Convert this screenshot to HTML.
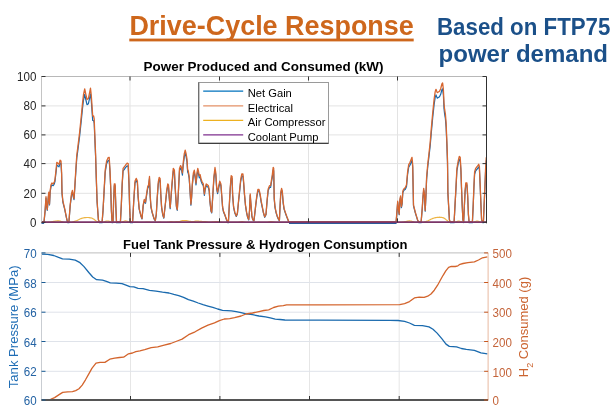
<!DOCTYPE html>
<html><head><meta charset="utf-8"><style>
html,body{margin:0;padding:0;background:#fff;}
svg{display:block;filter:blur(0.3px);}
text{font-family:"Liberation Sans",Arial,sans-serif;}
.tk{font-size:12.4px;fill:#262626;}
.tkb{font-size:12.4px;fill:#2463A4;}
.tko{font-size:12.4px;fill:#C4643A;}
.ttl{font-size:12.5px;font-weight:bold;fill:#000;}
.lg{font-size:11.2px;fill:#000;}
.axb{font-size:12px;fill:#1F6DB5;}
.axo{font-size:12.5px;fill:#CB6430;}
.h1{font-size:27.6px;font-weight:bold;fill:#CE671C;}
.h2{font-size:23px;font-weight:bold;fill:#1B5089;}
</style></head><body>
<svg width="616" height="410" viewBox="0 0 616 410">
<rect width="616" height="410" fill="#fff"/>
<text x="129.4" y="35.4" class="h1" textLength="284.4" lengthAdjust="spacingAndGlyphs">Drive-Cycle Response</text>
<rect x="129.3" y="38.6" width="284.4" height="2.8" fill="#CE671C"/>
<text x="437" y="34.7" class="h2" textLength="173.4" lengthAdjust="spacingAndGlyphs">Based on FTP75</text>
<text x="438.6" y="62" class="h2" textLength="169.4" lengthAdjust="spacingAndGlyphs">power demand</text>
<line x1="130.0" y1="76.5" x2="130.0" y2="222.3" stroke="#e3e3e3" stroke-width="1"/>
<line x1="219.5" y1="76.5" x2="219.5" y2="222.3" stroke="#e3e3e3" stroke-width="1"/>
<line x1="308.5" y1="76.5" x2="308.5" y2="222.3" stroke="#e3e3e3" stroke-width="1"/>
<line x1="397.5" y1="76.5" x2="397.5" y2="222.3" stroke="#e3e3e3" stroke-width="1"/>
<line x1="41.5" y1="193.3" x2="486.5" y2="193.3" stroke="#e3e3e3" stroke-width="1"/>
<line x1="41.5" y1="163.6" x2="486.5" y2="163.6" stroke="#e3e3e3" stroke-width="1"/>
<line x1="41.5" y1="134.9" x2="486.5" y2="134.9" stroke="#e3e3e3" stroke-width="1"/>
<line x1="41.5" y1="105.9" x2="486.5" y2="105.9" stroke="#e3e3e3" stroke-width="1"/>
<polyline points="41.8,222.6 44.0,222.6 45.1,211.2 46.0,198.0 46.6,205.9 47.3,210.3 48.2,198.9 48.8,193.6 49.5,205.0 50.2,191.9 51.0,186.6 51.9,184.9 53.2,185.7 54.3,183.9 55.0,181.3 56.1,171.6 56.8,165.1 57.9,165.9 59.0,166.9 60.1,162.9 61.0,163.7 61.6,174.3 62.0,193.6 62.9,202.3 64.7,209.4 66.5,218.2 67.5,222.6 68.9,222.6 70.2,205.9 71.5,195.3 72.4,191.9 73.3,197.2 74.0,199.7 74.8,188.3 75.9,170.8 76.8,158.0 77.7,151.4 79.6,136.5 81.2,121.5 82.5,108.4 83.5,100.0 84.7,94.4 85.9,100.0 87.0,104.7 88.4,103.7 89.4,99.1 90.5,93.9 91.3,101.0 92.1,112.2 92.7,120.5 93.6,120.5 94.2,123.4 94.8,138.3 95.6,157.0 96.3,179.6 97.1,202.3 98.4,219.9 99.3,222.6 102.1,222.6 103.0,211.2 104.1,191.9 105.2,172.5 106.6,163.7 108.1,160.6 109.2,160.2 109.9,170.8 110.7,188.3 111.4,211.2 112.1,222.6 113.0,222.6 113.6,202.3 114.3,185.7 115.1,185.7 115.8,205.9 116.5,222.6 120.4,222.6 121.3,205.9 122.2,184.8 123.1,170.8 124.6,169.0 125.9,167.2 127.1,165.9 128.2,166.3 129.0,184.8 129.7,209.4 130.4,222.6 132.6,222.6 133.7,202.3 135.0,183.0 136.3,180.4 137.4,183.0 138.1,197.2 139.2,209.4 141.0,216.4 142.0,219.0 143.2,205.9 144.3,200.6 145.5,203.3 146.6,195.3 147.7,188.3 148.6,186.6 149.5,178.6 150.2,197.2 151.0,207.6 152.2,212.9 154.1,219.0 155.3,220.9 156.3,214.7 157.2,198.9 158.3,183.9 159.2,179.6 160.1,180.4 160.8,195.3 161.6,207.6 162.7,214.7 163.8,218.2 164.5,212.0 165.6,202.3 166.7,191.9 167.8,185.7 168.5,186.6 169.3,198.9 170.2,208.6 171.8,187.6 173.3,170.8 174.4,172.6 175.1,187.6 176.4,206.8 177.3,210.3 178.2,196.3 179.5,170.8 180.6,168.2 181.5,170.0 182.4,175.2 183.2,165.6 184.3,156.7 185.2,153.3 186.1,156.7 187.0,162.0 187.6,171.7 188.3,173.4 189.2,178.7 190.1,192.7 190.9,205.1 191.6,198.0 192.3,185.7 193.4,175.2 194.3,172.6 195.3,178.7 196.0,184.9 197.1,174.3 197.8,170.8 198.6,174.3 199.3,177.9 200.2,177.0 201.1,181.3 202.2,184.0 203.3,185.7 204.4,195.4 205.1,190.1 206.2,185.7 207.3,186.6 208.4,187.6 209.2,191.0 209.9,201.6 211.0,211.3 211.7,213.0 212.8,196.3 213.9,178.7 215.0,170.0 215.8,175.2 216.7,189.3 217.6,193.7 218.7,187.6 219.8,183.1 220.9,185.7 221.8,197.2 222.6,207.6 223.5,212.0 225.0,215.6 226.2,219.0 227.5,222.6 228.4,222.6 229.3,205.9 230.3,188.3 231.2,177.8 232.1,178.6 232.6,195.3 233.6,207.6 234.8,212.9 236.3,216.4 237.4,213.8 238.5,202.3 239.6,191.9 240.7,181.3 241.8,176.0 242.9,176.0 243.6,183.0 244.5,195.3 245.5,205.9 246.6,212.9 247.6,217.3 248.7,219.9 249.5,211.2 250.2,195.3 250.9,204.2 251.9,216.4 252.8,219.9 253.9,220.9 254.6,215.6 255.7,205.9 256.8,197.2 257.9,190.9 259.0,190.9 260.1,195.3 261.2,202.3 262.3,207.6 263.4,212.9 264.7,217.3 266.0,214.7 267.1,201.2 268.2,190.6 269.5,187.5 270.6,187.5 271.3,183.0 272.2,177.8 273.2,169.9 273.7,170.8 274.2,198.9 275.0,207.6 276.1,212.9 277.2,216.4 278.3,219.0 279.4,220.9 280.1,205.9 280.8,193.6 281.6,190.0 282.3,192.7 283.2,203.3 284.1,209.4 285.6,213.8 286.9,217.3 288.7,221.7 289.6,222.6 396.1,222.6 397.0,211.2 397.7,202.3 398.4,209.4 399.2,214.7 399.9,200.6 400.6,197.2 401.4,207.6 402.1,204.2 402.8,192.7 403.6,190.9 404.3,190.0 405.4,189.2 406.5,186.6 407.6,174.3 408.7,167.2 409.8,165.5 410.9,162.9 412.0,160.2 412.7,167.2 413.5,205.9 414.4,209.4 415.3,212.9 416.4,216.4 417.5,219.9 418.6,222.6 421.1,222.6 422.2,209.4 423.0,197.2 423.7,190.0 424.4,195.3 425.2,211.2 425.9,197.2 426.6,179.6 427.7,167.2 428.8,158.0 430.2,145.8 431.3,132.6 432.7,117.7 434.1,104.6 435.2,97.1 436.0,94.9 437.2,98.1 438.4,97.5 439.5,96.7 440.7,94.3 441.9,89.6 442.6,88.8 443.4,95.3 444.0,108.4 444.6,114.0 445.4,118.6 446.1,127.1 446.9,145.8 447.5,162.8 447.9,193.6 448.6,205.9 449.4,219.9 450.1,222.6 454.1,222.6 455.0,205.9 456.0,188.3 456.9,170.8 458.2,163.7 459.3,159.3 460.2,160.2 460.9,170.8 461.5,188.3 462.2,205.9 462.9,219.9 463.6,222.6 464.4,205.9 465.1,191.9 465.8,184.8 466.9,184.8 467.7,197.2 468.4,214.7 469.1,222.6 472.4,222.6 473.2,205.9 473.9,188.3 474.6,174.3 475.7,170.8 477.2,169.0 478.7,166.9 479.4,169.0 480.1,184.8 480.9,204.2 481.6,219.9 482.5,222.6 483.4,222.6 484.1,205.9 484.9,188.3 485.6,170.8 486.3,160.2" fill="none" stroke="#1568AE" stroke-width="1.2" stroke-linejoin="round"/>
<line x1="289" y1="223.3" x2="396.5" y2="223.3" stroke="#2a5a9a" stroke-width="1.2"/>
<line x1="41.5" y1="223.3" x2="44" y2="223.3" stroke="#2a5a9a" stroke-width="1.2"/>
<polyline points="41.8,221.7 44.0,221.7 45.1,210.4 46.0,196.7 46.6,204.9 47.3,209.5 48.2,197.6 48.8,192.1 49.5,204.0 50.2,190.3 51.0,184.8 51.9,183.0 53.2,183.9 54.3,182.0 55.0,179.3 56.1,169.2 56.8,162.4 57.9,163.2 59.0,164.3 60.1,160.1 61.0,161.0 61.6,172.0 62.0,192.1 62.9,201.2 64.7,208.6 66.5,217.7 67.5,221.7 68.9,221.7 70.2,204.9 71.5,193.9 72.4,190.3 73.3,195.8 74.0,198.5 74.8,186.6 75.9,168.3 76.8,155.0 77.7,148.1 79.6,132.6 81.2,117.0 82.5,103.4 83.5,94.6 84.7,88.8 85.9,94.6 87.0,99.5 88.4,98.5 89.4,93.7 90.5,88.2 91.3,95.6 92.1,107.3 92.7,116.0 93.6,116.0 94.2,119.0 94.8,134.5 95.6,154.0 96.3,177.5 97.1,201.2 98.4,219.5 99.3,221.7 102.1,221.7 103.0,210.4 104.1,190.3 105.2,170.1 106.6,161.0 108.1,157.7 109.2,157.3 109.9,168.3 110.7,186.6 111.4,210.4 112.1,221.7 113.0,221.7 113.6,201.2 114.3,183.9 115.1,183.9 115.8,204.9 116.5,221.7 120.4,221.7 121.3,204.9 122.2,182.9 123.1,168.3 124.6,166.5 125.9,164.6 127.1,163.2 128.2,163.7 129.0,182.9 129.7,208.6 130.4,221.7 132.6,221.7 133.7,201.2 135.0,181.1 136.3,178.4 137.4,181.1 138.1,195.8 139.2,208.6 141.0,215.9 142.0,218.6 143.2,204.9 144.3,199.4 145.5,202.2 146.6,193.9 147.7,186.6 148.6,184.8 149.5,176.5 150.2,195.8 151.0,206.7 152.2,212.2 154.1,218.6 155.3,220.5 156.3,214.1 157.2,197.6 158.3,182.0 159.2,177.5 160.1,178.4 160.8,193.9 161.6,206.7 162.7,214.1 163.8,217.7 164.5,211.3 165.6,201.2 166.7,190.3 167.8,183.9 168.5,184.8 169.3,197.6 170.2,207.7 171.8,185.8 173.3,168.4 174.4,170.2 175.1,185.8 176.4,205.9 177.3,209.5 178.2,194.9 179.5,168.4 180.6,165.6 181.5,167.5 182.4,172.9 183.2,162.9 184.3,153.7 185.2,150.1 186.1,153.7 187.0,159.2 187.6,169.3 188.3,171.1 189.2,176.6 190.1,191.2 190.9,204.1 191.6,196.7 192.3,183.9 193.4,172.9 194.3,170.2 195.3,176.6 196.0,183.0 197.1,172.0 197.8,168.4 198.6,172.0 199.3,175.7 200.2,174.8 201.1,179.3 202.2,182.1 203.3,183.9 204.4,194.0 205.1,188.5 206.2,183.9 207.3,184.8 208.4,185.8 209.2,189.4 209.9,200.4 211.0,210.5 211.7,212.3 212.8,194.9 213.9,176.6 215.0,167.5 215.8,172.9 216.7,187.6 217.6,192.2 218.7,185.8 219.8,181.2 220.9,183.9 221.8,195.8 222.6,206.7 223.5,211.3 225.0,215.0 226.2,218.6 227.5,221.7 228.4,221.7 229.3,204.9 230.3,186.6 231.2,175.6 232.1,176.5 232.6,193.9 233.6,206.7 234.8,212.2 236.3,215.9 237.4,213.1 238.5,201.2 239.6,190.3 240.7,179.3 241.8,173.8 242.9,173.8 243.6,181.1 244.5,193.9 245.5,204.9 246.6,212.2 247.6,216.8 248.7,219.5 249.5,210.4 250.2,193.9 250.9,203.1 251.9,215.9 252.8,219.5 253.9,220.5 254.6,215.0 255.7,204.9 256.8,195.8 257.9,189.3 259.0,189.3 260.1,193.9 261.2,201.2 262.3,206.7 263.4,212.2 264.7,216.8 266.0,214.1 267.1,200.0 268.2,189.0 269.5,185.7 270.6,185.7 271.3,181.1 272.2,175.6 273.2,167.4 273.7,168.3 274.2,197.6 275.0,206.7 276.1,212.2 277.2,215.9 278.3,218.6 279.4,220.5 280.1,204.9 280.8,192.1 281.6,188.4 282.3,191.2 283.2,202.2 284.1,208.6 285.6,213.1 286.9,216.8 288.7,221.4 289.6,221.7 396.1,221.7 397.0,210.4 397.7,201.2 398.4,208.6 399.2,214.1 399.9,199.4 400.6,195.8 401.4,206.7 402.1,203.1 402.8,191.2 403.6,189.3 404.3,188.4 405.4,187.5 406.5,184.8 407.6,172.0 408.7,164.6 409.8,162.8 410.9,160.1 412.0,157.3 412.7,164.6 413.5,204.9 414.4,208.6 415.3,212.2 416.4,215.9 417.5,219.5 418.6,221.7 421.1,221.7 422.2,208.6 423.0,195.8 423.7,188.4 424.4,193.9 425.2,210.4 425.9,195.8 426.6,177.5 427.7,164.6 428.8,155.0 430.2,142.3 431.3,128.6 432.7,113.0 434.1,99.4 435.2,91.6 436.0,89.3 437.2,92.6 438.4,92.0 439.5,91.2 440.7,88.7 441.9,83.8 442.6,82.9 443.4,89.7 444.0,103.3 444.6,109.2 445.4,114.0 446.1,122.8 446.9,142.3 447.5,160.0 447.9,192.1 448.6,204.9 449.4,219.5 450.1,221.7 454.1,221.7 455.0,204.9 456.0,186.6 456.9,168.3 458.2,161.0 459.3,156.4 460.2,157.3 460.9,168.3 461.5,186.6 462.2,204.9 462.9,219.5 463.6,221.7 464.4,204.9 465.1,190.3 465.8,182.9 466.9,182.9 467.7,195.8 468.4,214.1 469.1,221.7 472.4,221.7 473.2,204.9 473.9,186.6 474.6,172.0 475.7,168.3 477.2,166.5 478.7,164.3 479.4,166.5 480.1,182.9 480.9,203.1 481.6,219.5 482.5,221.7 483.4,221.7 484.1,204.9 484.9,186.6 485.6,168.3 486.3,157.3" fill="none" stroke="#D66630" stroke-width="1.3" stroke-linejoin="round"/>
<polyline points="41.5,222.3 42.0,222.3 42.5,222.3 43.0,222.3 43.5,222.3 44.0,222.3 44.5,222.3 45.0,222.3 45.5,222.3 46.0,222.3 46.5,222.3 47.0,222.3 47.5,222.3 48.0,222.3 48.5,222.2 49.0,222.1 49.5,222.1 50.0,222.0 50.5,222.0 51.0,221.9 51.5,221.8 52.0,221.7 52.5,221.6 53.0,221.6 53.5,221.4 54.0,221.3 54.5,221.3 55.0,221.2 55.5,221.1 56.0,221.1 56.5,221.0 57.0,220.9 57.5,220.9 58.0,220.8 58.5,220.9 59.0,220.9 59.5,221.0 60.0,221.1 60.5,221.2 61.0,221.4 61.5,221.5 62.0,221.7 62.5,221.8 63.0,222.0 63.5,222.2 64.0,222.3 64.5,222.3 65.0,222.3 65.5,222.3 66.0,222.3 66.5,222.3 67.0,222.3 67.5,222.3 68.0,222.3 68.5,222.3 69.0,222.3 69.5,222.3 70.0,222.3 70.5,222.3 71.0,222.3 71.5,222.3 72.0,222.3 72.5,222.1 73.0,221.9 73.5,221.7 74.0,221.6 74.5,221.4 75.0,221.2 75.5,221.0 76.0,220.9 76.5,220.7 77.0,220.5 77.5,220.2 78.0,220.0 78.5,219.7 79.0,219.5 79.5,219.2 80.0,219.0 80.5,218.8 81.0,218.6 81.5,218.4 82.0,218.3 82.5,218.1 83.0,218.0 83.5,217.9 84.0,217.8 84.5,217.7 85.0,217.7 85.5,217.6 86.0,217.6 86.5,217.5 87.0,217.5 87.5,217.5 88.0,217.5 88.5,217.5 89.0,217.6 89.5,217.7 90.0,217.8 90.5,217.8 91.0,217.9 91.5,218.0 92.0,218.2 92.5,218.4 93.0,218.7 93.5,219.0 94.0,219.3 94.5,219.7 95.0,220.1 95.5,220.5 96.0,220.9 96.5,221.2 97.0,221.5 97.5,221.8 98.0,222.2 98.5,222.3 99.0,222.3 99.5,222.3 100.0,222.3 100.5,222.3 101.0,222.3 101.5,222.3 102.0,222.3 102.5,222.3 103.0,222.3 103.5,222.2 104.0,222.0 104.5,221.8 105.0,221.6 105.5,221.4 106.0,221.2 106.5,221.1 107.0,221.0 107.5,221.0 108.0,221.0 108.5,221.1 109.0,221.3 109.5,221.4 110.0,221.6 110.5,221.7 111.0,221.7 111.5,221.8 112.0,221.9 112.5,222.1 113.0,222.3 113.5,222.3 114.0,222.3 114.5,222.3 115.0,222.3 115.5,222.3 116.0,222.3 116.5,222.3 117.0,222.3 117.5,222.3 118.0,222.3 118.5,222.3 119.0,222.3 119.5,222.3 120.0,222.3 120.5,222.3 121.0,222.3 121.5,222.2 122.0,222.0 122.5,221.8 123.0,221.6 123.5,221.5 124.0,221.3 124.5,221.1 125.0,221.0 125.5,220.9 126.0,221.0 126.5,221.1 127.0,221.3 127.5,221.4 128.0,221.6 128.5,221.8 129.0,221.9 129.5,222.1 130.0,222.2 130.5,222.3 131.0,222.3 131.5,222.3 132.0,222.3 132.5,222.3 133.0,222.3 133.5,222.3 134.0,222.3 134.5,222.3 135.0,222.2 135.5,222.1 136.0,222.1 136.5,222.1 137.0,222.1 137.5,222.1 138.0,222.2 138.5,222.3 139.0,222.3 139.5,222.3 140.0,222.3 140.5,222.3 141.0,222.3 141.5,222.3 142.0,222.3 142.5,222.3 143.0,222.3 143.5,222.3 144.0,222.3 144.5,222.3 145.0,222.3 145.5,222.3 146.0,222.1 146.5,222.1 147.0,222.0 147.5,222.0 148.0,222.1 148.5,222.1 149.0,222.1 149.5,222.2 150.0,222.2 150.5,222.3 151.0,222.3 151.5,222.3 152.0,222.3 152.5,222.3 153.0,222.3 153.5,222.3 154.0,222.3 154.5,222.3 155.0,222.3 155.5,222.3 156.0,222.3 156.5,222.3 157.0,222.3 157.5,222.3 158.0,222.3 158.5,222.2 159.0,222.2 159.5,222.2 160.0,222.2 160.5,222.2 161.0,222.2 161.5,222.3 162.0,222.3 162.5,222.3 163.0,222.3 163.5,222.3 164.0,222.3 164.5,222.3 165.0,222.3 165.5,222.3 166.0,222.3 166.5,222.3 167.0,222.3 167.5,222.2 168.0,222.2 168.5,222.1 169.0,222.0 169.5,221.9 170.0,221.8 170.5,221.7 171.0,221.7 171.5,221.7 172.0,221.7 172.5,221.8 173.0,221.8 173.5,221.8 174.0,221.8 174.5,221.8 175.0,221.8 175.5,221.8 176.0,221.7 176.5,221.7 177.0,221.7 177.5,221.6 178.0,221.6 178.5,221.6 179.0,221.6 179.5,221.5 180.0,221.4 180.5,221.2 181.0,221.1 181.5,220.9 182.0,220.8 182.5,220.6 183.0,220.6 183.5,220.6 184.0,220.6 184.5,220.6 185.0,220.6 185.5,220.6 186.0,220.6 186.5,220.7 187.0,220.8 187.5,220.9 188.0,221.1 188.5,221.2 189.0,221.3 189.5,221.3 190.0,221.4 190.5,221.4 191.0,221.5 191.5,221.5 192.0,221.5 192.5,221.6 193.0,221.6 193.5,221.5 194.0,221.5 194.5,221.4 195.0,221.3 195.5,221.2 196.0,221.2 196.5,221.2 197.0,221.2 197.5,221.2 198.0,221.2 198.5,221.2 199.0,221.3 199.5,221.3 200.0,221.3 200.5,221.3 201.0,221.4 201.5,221.4 202.0,221.5 202.5,221.5 203.0,221.6 203.5,221.6 204.0,221.6 204.5,221.7 205.0,221.7 205.5,221.7 206.0,221.7 206.5,221.8 207.0,221.9 207.5,221.9 208.0,222.0 208.5,222.1 209.0,222.1 209.5,222.1 210.0,222.1 210.5,222.1 211.0,222.0 211.5,222.0 212.0,221.9 212.5,221.9 213.0,221.9 213.5,221.9 214.0,221.8 214.5,221.8 215.0,221.7 215.5,221.6 216.0,221.6 216.5,221.5 217.0,221.5 217.5,221.5 218.0,221.5 218.5,221.6 219.0,221.7 219.5,221.9 220.0,222.0 220.5,222.0 221.0,222.1 221.5,222.2 222.0,222.3 222.5,222.3 223.0,222.3 223.5,222.3 224.0,222.3 224.5,222.3 225.0,222.3 225.5,222.3 226.0,222.3 226.5,222.3 227.0,222.3 227.5,222.3 228.0,222.3 228.5,222.3 229.0,222.3 229.5,222.3 230.0,222.3 230.5,222.3 231.0,222.3 231.5,222.3 232.0,222.3 232.5,222.3 233.0,222.3 233.5,222.3 234.0,222.3 234.5,222.3 235.0,222.3 235.5,222.3 236.0,222.3 236.5,222.3 237.0,222.3 237.5,222.3 238.0,222.3 238.5,222.3 239.0,222.1 239.5,222.0 240.0,221.9 240.5,221.8 241.0,221.8 241.5,221.7 242.0,221.7 242.5,221.7 243.0,221.8 243.5,221.9 244.0,222.0 244.5,222.1 245.0,222.2 245.5,222.3 246.0,222.3 246.5,222.3 247.0,222.3 247.5,222.3 248.0,222.3 248.5,222.3 249.0,222.3 249.5,222.3 250.0,222.3 250.5,222.3 251.0,222.3 251.5,222.3 252.0,222.3 252.5,222.3 253.0,222.3 253.5,222.3 254.0,222.3 254.5,222.3 255.0,222.3 255.5,222.3 256.0,222.3 256.5,222.3 257.0,222.3 257.5,222.3 258.0,222.3 258.5,222.2 259.0,222.2 259.5,222.2 260.0,222.3 260.5,222.3 261.0,222.3 261.5,222.3 262.0,222.3 262.5,222.3 263.0,222.3 263.5,222.3 264.0,222.3 264.5,222.3 265.0,222.3 265.5,222.3 266.0,222.3 266.5,222.3 267.0,222.3 267.5,222.3 268.0,222.2 268.5,222.1 269.0,221.9 269.5,221.8 270.0,221.7 270.5,221.6 271.0,221.6 271.5,221.6 272.0,221.7 272.5,221.8 273.0,221.8 273.5,221.9 274.0,222.0 274.5,222.1 275.0,222.2 275.5,222.3 276.0,222.3 276.5,222.3 277.0,222.3 277.5,222.3 278.0,222.3 278.5,222.3 279.0,222.3 279.5,222.3 280.0,222.3 280.5,222.3 281.0,222.3 281.5,222.3 282.0,222.3 282.5,222.3 283.0,222.3 283.5,222.3 284.0,222.3 284.5,222.3 285.0,222.3 285.5,222.3 286.0,222.3 286.5,222.3 287.0,222.3 287.5,222.3 288.0,222.3 288.5,222.3 289.0,222.3 289.5,222.3 290.0,222.3 290.5,222.3 291.0,222.3 291.5,222.3 292.0,222.3 292.5,222.3 293.0,222.3 293.5,222.3 294.0,222.3 294.5,222.3 295.0,222.3 295.5,222.3 296.0,222.3 296.5,222.3 297.0,222.3 297.5,222.3 298.0,222.3 298.5,222.3 299.0,222.3 299.5,222.3 300.0,222.3 300.5,222.3 301.0,222.3 301.5,222.3 302.0,222.3 302.5,222.3 303.0,222.3 303.5,222.3 304.0,222.3 304.5,222.3 305.0,222.3 305.5,222.3 306.0,222.3 306.5,222.3 307.0,222.3 307.5,222.3 308.0,222.3 308.5,222.3 309.0,222.3 309.5,222.3 310.0,222.3 310.5,222.3 311.0,222.3 311.5,222.3 312.0,222.3 312.5,222.3 313.0,222.3 313.5,222.3 314.0,222.3 314.5,222.3 315.0,222.3 315.5,222.3 316.0,222.3 316.5,222.3 317.0,222.3 317.5,222.3 318.0,222.3 318.5,222.3 319.0,222.3 319.5,222.3 320.0,222.3 320.5,222.3 321.0,222.3 321.5,222.3 322.0,222.3 322.5,222.3 323.0,222.3 323.5,222.3 324.0,222.3 324.5,222.3 325.0,222.3 325.5,222.3 326.0,222.3 326.5,222.3 327.0,222.3 327.5,222.3 328.0,222.3 328.5,222.3 329.0,222.3 329.5,222.3 330.0,222.3 330.5,222.3 331.0,222.3 331.5,222.3 332.0,222.3 332.5,222.3 333.0,222.3 333.5,222.3 334.0,222.3 334.5,222.3 335.0,222.3 335.5,222.3 336.0,222.3 336.5,222.3 337.0,222.3 337.5,222.3 338.0,222.3 338.5,222.3 339.0,222.3 339.5,222.3 340.0,222.3 340.5,222.3 341.0,222.3 341.5,222.3 342.0,222.3 342.5,222.3 343.0,222.3 343.5,222.3 344.0,222.3 344.5,222.3 345.0,222.3 345.5,222.3 346.0,222.3 346.5,222.3 347.0,222.3 347.5,222.3 348.0,222.3 348.5,222.3 349.0,222.3 349.5,222.3 350.0,222.3 350.5,222.3 351.0,222.3 351.5,222.3 352.0,222.3 352.5,222.3 353.0,222.3 353.5,222.3 354.0,222.3 354.5,222.3 355.0,222.3 355.5,222.3 356.0,222.3 356.5,222.3 357.0,222.3 357.5,222.3 358.0,222.3 358.5,222.3 359.0,222.3 359.5,222.3 360.0,222.3 360.5,222.3 361.0,222.3 361.5,222.3 362.0,222.3 362.5,222.3 363.0,222.3 363.5,222.3 364.0,222.3 364.5,222.3 365.0,222.3 365.5,222.3 366.0,222.3 366.5,222.3 367.0,222.3 367.5,222.3 368.0,222.3 368.5,222.3 369.0,222.3 369.5,222.3 370.0,222.3 370.5,222.3 371.0,222.3 371.5,222.3 372.0,222.3 372.5,222.3 373.0,222.3 373.5,222.3 374.0,222.3 374.5,222.3 375.0,222.3 375.5,222.3 376.0,222.3 376.5,222.3 377.0,222.3 377.5,222.3 378.0,222.3 378.5,222.3 379.0,222.3 379.5,222.3 380.0,222.3 380.5,222.3 381.0,222.3 381.5,222.3 382.0,222.3 382.5,222.3 383.0,222.3 383.5,222.3 384.0,222.3 384.5,222.3 385.0,222.3 385.5,222.3 386.0,222.3 386.5,222.3 387.0,222.3 387.5,222.3 388.0,222.3 388.5,222.3 389.0,222.3 389.5,222.3 390.0,222.3 390.5,222.3 391.0,222.3 391.5,222.3 392.0,222.3 392.5,222.3 393.0,222.3 393.5,222.3 394.0,222.3 394.5,222.3 395.0,222.3 395.5,222.3 396.0,222.3 396.5,222.3 397.0,222.3 397.5,222.3 398.0,222.3 398.5,222.3 399.0,222.3 399.5,222.3 400.0,222.3 400.5,222.3 401.0,222.3 401.5,222.3 402.0,222.2 402.5,222.2 403.0,222.1 403.5,222.0 404.0,221.9 404.5,221.8 405.0,221.7 405.5,221.6 406.0,221.5 406.5,221.4 407.0,221.3 407.5,221.2 408.0,221.1 408.5,221.0 409.0,220.9 409.5,220.9 410.0,221.0 410.5,221.0 411.0,221.1 411.5,221.2 412.0,221.4 412.5,221.5 413.0,221.7 413.5,221.8 414.0,222.0 414.5,222.2 415.0,222.3 415.5,222.3 416.0,222.3 416.5,222.3 417.0,222.3 417.5,222.3 418.0,222.3 418.5,222.3 419.0,222.3 419.5,222.3 420.0,222.3 420.5,222.3 421.0,222.3 421.5,222.3 422.0,222.3 422.5,222.3 423.0,222.3 423.5,222.3 424.0,222.3 424.5,222.1 425.0,221.9 425.5,221.7 426.0,221.5 426.5,221.3 427.0,221.1 427.5,221.0 428.0,220.8 428.5,220.5 429.0,220.2 429.5,220.0 430.0,219.7 430.5,219.4 431.0,219.2 431.5,219.0 432.0,218.8 432.5,218.6 433.0,218.4 433.5,218.2 434.0,218.0 434.5,217.9 435.0,217.8 435.5,217.7 436.0,217.6 436.5,217.5 437.0,217.4 437.5,217.4 438.0,217.3 438.5,217.3 439.0,217.3 439.5,217.2 440.0,217.3 440.5,217.3 441.0,217.3 441.5,217.4 442.0,217.5 442.5,217.6 443.0,217.7 443.5,217.9 444.0,218.1 444.5,218.4 445.0,218.7 445.5,219.1 446.0,219.6 446.5,220.0 447.0,220.4 447.5,220.8 448.0,221.2 448.5,221.5 449.0,221.8 449.5,222.2 450.0,222.3 450.5,222.3 451.0,222.3 451.5,222.3 452.0,222.3 452.5,222.3 453.0,222.3 453.5,222.3 454.0,222.3 454.5,222.3 455.0,222.2 455.5,222.0 456.0,221.8 456.5,221.6 457.0,221.5 457.5,221.3 458.0,221.2 458.5,221.1 459.0,221.2 459.5,221.2 460.0,221.4 460.5,221.5 461.0,221.6 461.5,221.7 462.0,221.7 462.5,221.8 463.0,221.9 463.5,222.0 464.0,222.1 464.5,222.2 465.0,222.3 465.5,222.3 466.0,222.3 466.5,222.3 467.0,222.3 467.5,222.3 468.0,222.3 468.5,222.3 469.0,222.3 469.5,222.3 470.0,222.3 470.5,222.3 471.0,222.3 471.5,222.3 472.0,222.3 472.5,222.3 473.0,222.3 473.5,222.2 474.0,222.0 474.5,221.8 475.0,221.6 475.5,221.5 476.0,221.3 476.5,221.2 477.0,221.1 477.5,221.1 478.0,221.2 478.5,221.4 479.0,221.6 479.5,221.7 480.0,221.9 480.5,222.0 481.0,222.1 481.5,222.1 482.0,222.2 482.5,222.1 483.0,222.1 483.5,222.2 484.0,222.3 484.5,222.3 485.0,222.3 485.5,222.2 486.0,222.0 486.5,221.9" fill="none" stroke="#EDB545" stroke-width="1.2" stroke-linejoin="round"/>
<line x1="41.5" y1="222.2" x2="486.5" y2="222.2" stroke="#7a3568" stroke-width="1.8"/>
<line x1="41.5" y1="76.5" x2="486.5" y2="76.5" stroke="#b8b8b8" stroke-width="1"/>
<line x1="41.5" y1="76.5" x2="41.5" y2="222.3" stroke="#c4c4c4" stroke-width="1"/>
<line x1="486.5" y1="76.5" x2="486.5" y2="223.3" stroke="#303030" stroke-width="1"/>
<line x1="130.0" y1="76.5" x2="130.0" y2="80.5" stroke="#333" stroke-width="1"/>
<line x1="130.0" y1="218.3" x2="130.0" y2="222.3" stroke="#333" stroke-width="1"/>
<line x1="219.5" y1="76.5" x2="219.5" y2="80.5" stroke="#333" stroke-width="1"/>
<line x1="219.5" y1="218.3" x2="219.5" y2="222.3" stroke="#333" stroke-width="1"/>
<line x1="308.5" y1="76.5" x2="308.5" y2="80.5" stroke="#333" stroke-width="1"/>
<line x1="308.5" y1="218.3" x2="308.5" y2="222.3" stroke="#333" stroke-width="1"/>
<line x1="397.5" y1="76.5" x2="397.5" y2="80.5" stroke="#333" stroke-width="1"/>
<line x1="397.5" y1="218.3" x2="397.5" y2="222.3" stroke="#333" stroke-width="1"/>
<line x1="41.5" y1="222.3" x2="45.5" y2="222.3" stroke="#333" stroke-width="1"/>
<line x1="482.5" y1="222.3" x2="486.5" y2="222.3" stroke="#333" stroke-width="1"/>
<text x="36.4" y="226.6" text-anchor="end" class="tk" textLength="6.45" lengthAdjust="spacingAndGlyphs">0</text>
<line x1="41.5" y1="193.3" x2="45.5" y2="193.3" stroke="#333" stroke-width="1"/>
<line x1="482.5" y1="193.3" x2="486.5" y2="193.3" stroke="#333" stroke-width="1"/>
<text x="36.4" y="197.6" text-anchor="end" class="tk" textLength="12.90" lengthAdjust="spacingAndGlyphs">20</text>
<line x1="41.5" y1="163.6" x2="45.5" y2="163.6" stroke="#333" stroke-width="1"/>
<line x1="482.5" y1="163.6" x2="486.5" y2="163.6" stroke="#333" stroke-width="1"/>
<text x="36.4" y="167.9" text-anchor="end" class="tk" textLength="12.90" lengthAdjust="spacingAndGlyphs">40</text>
<line x1="41.5" y1="134.9" x2="45.5" y2="134.9" stroke="#333" stroke-width="1"/>
<line x1="482.5" y1="134.9" x2="486.5" y2="134.9" stroke="#333" stroke-width="1"/>
<text x="36.4" y="139.2" text-anchor="end" class="tk" textLength="12.90" lengthAdjust="spacingAndGlyphs">60</text>
<line x1="41.5" y1="105.9" x2="45.5" y2="105.9" stroke="#333" stroke-width="1"/>
<line x1="482.5" y1="105.9" x2="486.5" y2="105.9" stroke="#333" stroke-width="1"/>
<text x="36.4" y="110.2" text-anchor="end" class="tk" textLength="12.90" lengthAdjust="spacingAndGlyphs">80</text>
<line x1="41.5" y1="76.5" x2="45.5" y2="76.5" stroke="#333" stroke-width="1"/>
<line x1="482.5" y1="76.5" x2="486.5" y2="76.5" stroke="#333" stroke-width="1"/>
<text x="36.4" y="80.8" text-anchor="end" class="tk" textLength="19.35" lengthAdjust="spacingAndGlyphs">100</text>
<text x="143.5" y="71.3" class="ttl" textLength="240" lengthAdjust="spacingAndGlyphs">Power Produced and Consumed (kW)</text>
<rect x="198.5" y="82.5" width="130" height="60.8" fill="#fff" stroke="#9a9a9a" stroke-width="1"/>
<line x1="198.5" y1="143.3" x2="328.5" y2="143.3" stroke="#222" stroke-width="1"/>
<line x1="198.7" y1="82.5" x2="198.7" y2="143.3" stroke="#707070" stroke-width="1.4"/>
<line x1="203.2" y1="91.2" x2="243.2" y2="91.2" stroke="#0072BD" stroke-width="1.3"/>
<text x="247.7" y="96.9" class="lg">Net Gain</text>
<line x1="203.2" y1="105.8" x2="243.2" y2="105.8" stroke="#E39066" stroke-width="1.3"/>
<text x="247.7" y="111.5" class="lg">Electrical</text>
<line x1="203.2" y1="120.3" x2="243.2" y2="120.3" stroke="#EDB120" stroke-width="1.3"/>
<text x="247.7" y="126.0" class="lg">Air Compressor</text>
<line x1="203.2" y1="134.9" x2="243.2" y2="134.9" stroke="#7E2F8E" stroke-width="1.3"/>
<text x="247.7" y="140.6" class="lg">Coolant Pump</text>
<line x1="130.5" y1="252.9" x2="130.5" y2="400.0" stroke="#e6e6e6" stroke-width="1"/>
<line x1="219.9" y1="252.9" x2="219.9" y2="400.0" stroke="#e6e6e6" stroke-width="1"/>
<line x1="309.5" y1="252.9" x2="309.5" y2="400.0" stroke="#e6e6e6" stroke-width="1"/>
<line x1="399.2" y1="252.9" x2="399.2" y2="400.0" stroke="#e6e6e6" stroke-width="1"/>
<line x1="41.5" y1="371.3" x2="488.1" y2="371.3" stroke="#dfe3ea" stroke-width="1"/>
<line x1="41.5" y1="341.5" x2="488.1" y2="341.5" stroke="#dfe3ea" stroke-width="1"/>
<line x1="41.5" y1="312.2" x2="488.1" y2="312.2" stroke="#dfe3ea" stroke-width="1"/>
<line x1="41.5" y1="282.5" x2="488.1" y2="282.5" stroke="#dfe3ea" stroke-width="1"/>
<polyline points="41.3,254.0 47.8,254.3 53.7,255.5 58.6,257.4 62.5,258.8 69.3,259.2 75.2,260.2 80.0,262.7 84.0,266.6 88.8,272.5 92.7,277.0 96.6,279.7 102.5,280.1 106.4,281.3 110.3,282.8 116.2,283.2 122.0,283.6 126.0,285.2 129.8,286.7 133.8,286.9 138.1,288.3 143.0,288.7 149.5,290.3 156.0,291.1 162.5,292.2 169.0,293.0 173.8,294.4 178.7,295.6 183.6,297.3 188.4,299.7 193.3,301.2 198.2,303.0 203.0,304.6 207.9,306.0 212.8,307.3 217.7,309.0 222.5,310.3 227.4,310.6 231.4,310.8 236.2,311.6 241.1,312.7 246.0,313.9 252.5,314.7 259.0,316.0 265.5,316.9 270.3,317.9 275.2,319.2 280.0,319.5 284.9,320.0 289.8,320.2 320.0,320.2 390.0,320.4 398.1,320.5 404.6,321.4 409.5,323.0 414.4,325.3 422.5,325.6 429.0,326.9 433.0,329.2 437.1,333.1 442.0,338.9 446.0,344.1 449.3,346.4 456.6,346.9 461.4,348.5 466.3,349.4 474.4,350.3 480.9,352.9 487.4,353.8" fill="none" stroke="#1A6AAE" stroke-width="1.3" stroke-linejoin="round"/>
<polyline points="41.3,399.9 46.5,399.9 50.6,399.3 54.6,397.6 59.5,394.4 62.7,392.4 67.6,391.9 72.5,391.6 75.7,390.6 79.0,388.7 82.2,385.1 85.5,379.8 88.7,374.1 91.9,368.4 96.0,363.1 100.1,362.4 104.9,362.4 109.8,359.2 114.7,358.2 119.5,357.5 123.6,357.2 128.5,353.8 132.5,353.0 135.8,351.7 139.9,350.8 144.7,349.6 151.2,347.7 157.7,346.9 164.2,345.1 170.7,343.5 177.2,341.0 182.1,339.1 188.6,334.7 195.1,331.8 201.6,328.1 208.0,325.1 214.5,322.9 219.4,320.6 224.3,319.0 229.7,318.6 234.6,317.6 241.1,316.0 246.0,314.0 252.5,313.0 259.0,311.6 263.8,310.5 268.7,309.8 273.6,307.5 278.4,306.2 283.3,305.6 286.6,304.8 320.0,304.8 399.7,304.7 404.6,303.6 409.5,301.6 414.4,297.9 419.2,297.2 424.1,297.4 427.7,296.2 431.0,294.0 434.3,290.2 437.6,285.2 440.3,280.3 443.1,275.3 445.8,270.9 448.6,267.3 451.3,266.3 455.2,266.5 457.9,265.8 460.0,264.3 463.0,263.5 467.9,262.7 474.4,261.9 478.5,260.0 482.5,257.8 487.4,256.8" fill="none" stroke="#D3642C" stroke-width="1.3" stroke-linejoin="round"/>
<line x1="41.5" y1="252.9" x2="488.1" y2="252.9" stroke="#bdbdbd" stroke-width="1"/>
<line x1="41.5" y1="252.9" x2="41.5" y2="400.0" stroke="#c9cdd2" stroke-width="1"/>
<line x1="488.1" y1="252.9" x2="488.1" y2="400.0" stroke="#e8b9a0" stroke-width="1"/>
<line x1="41.5" y1="400.0" x2="488.1" y2="400.0" stroke="#555" stroke-width="2"/>
<line x1="130.5" y1="252.9" x2="130.5" y2="256.9" stroke="#333" stroke-width="1"/>
<line x1="130.5" y1="396.0" x2="130.5" y2="400.0" stroke="#333" stroke-width="1"/>
<line x1="219.9" y1="252.9" x2="219.9" y2="256.9" stroke="#333" stroke-width="1"/>
<line x1="219.9" y1="396.0" x2="219.9" y2="400.0" stroke="#333" stroke-width="1"/>
<line x1="309.5" y1="252.9" x2="309.5" y2="256.9" stroke="#333" stroke-width="1"/>
<line x1="309.5" y1="396.0" x2="309.5" y2="400.0" stroke="#333" stroke-width="1"/>
<line x1="399.2" y1="252.9" x2="399.2" y2="256.9" stroke="#333" stroke-width="1"/>
<line x1="399.2" y1="396.0" x2="399.2" y2="400.0" stroke="#333" stroke-width="1"/>
<line x1="41.5" y1="400.0" x2="45.5" y2="400.0" stroke="#1a5c94" stroke-width="1"/>
<line x1="484.1" y1="400.0" x2="488.1" y2="400.0" stroke="#c8581f" stroke-width="1"/>
<text x="36.6" y="405.1" text-anchor="end" class="tkb" textLength="12.9" lengthAdjust="spacingAndGlyphs">60</text>
<text x="492.6" y="405.2" class="tko" textLength="6.45" lengthAdjust="spacingAndGlyphs">0</text>
<line x1="41.5" y1="371.3" x2="45.5" y2="371.3" stroke="#1a5c94" stroke-width="1"/>
<line x1="484.1" y1="371.3" x2="488.1" y2="371.3" stroke="#c8581f" stroke-width="1"/>
<text x="36.6" y="376.4" text-anchor="end" class="tkb" textLength="12.9" lengthAdjust="spacingAndGlyphs">62</text>
<text x="492.6" y="376.5" class="tko" textLength="19.35" lengthAdjust="spacingAndGlyphs">100</text>
<line x1="41.5" y1="341.5" x2="45.5" y2="341.5" stroke="#1a5c94" stroke-width="1"/>
<line x1="484.1" y1="341.5" x2="488.1" y2="341.5" stroke="#c8581f" stroke-width="1"/>
<text x="36.6" y="346.6" text-anchor="end" class="tkb" textLength="12.9" lengthAdjust="spacingAndGlyphs">64</text>
<text x="492.6" y="346.7" class="tko" textLength="19.35" lengthAdjust="spacingAndGlyphs">200</text>
<line x1="41.5" y1="312.2" x2="45.5" y2="312.2" stroke="#1a5c94" stroke-width="1"/>
<line x1="484.1" y1="312.2" x2="488.1" y2="312.2" stroke="#c8581f" stroke-width="1"/>
<text x="36.6" y="317.3" text-anchor="end" class="tkb" textLength="12.9" lengthAdjust="spacingAndGlyphs">66</text>
<text x="492.6" y="317.4" class="tko" textLength="19.35" lengthAdjust="spacingAndGlyphs">300</text>
<line x1="41.5" y1="282.5" x2="45.5" y2="282.5" stroke="#1a5c94" stroke-width="1"/>
<line x1="484.1" y1="282.5" x2="488.1" y2="282.5" stroke="#c8581f" stroke-width="1"/>
<text x="36.6" y="287.6" text-anchor="end" class="tkb" textLength="12.9" lengthAdjust="spacingAndGlyphs">68</text>
<text x="492.6" y="287.7" class="tko" textLength="19.35" lengthAdjust="spacingAndGlyphs">400</text>
<line x1="41.5" y1="252.9" x2="45.5" y2="252.9" stroke="#1a5c94" stroke-width="1"/>
<line x1="484.1" y1="252.9" x2="488.1" y2="252.9" stroke="#c8581f" stroke-width="1"/>
<text x="36.6" y="258.0" text-anchor="end" class="tkb" textLength="12.9" lengthAdjust="spacingAndGlyphs">70</text>
<text x="492.6" y="258.1" class="tko" textLength="19.35" lengthAdjust="spacingAndGlyphs">500</text>
<text x="123" y="248.7" class="ttl" textLength="284.5" lengthAdjust="spacingAndGlyphs">Fuel Tank Pressure &amp; Hydrogen Consumption</text>
<text transform="translate(17.9,388.2) rotate(-90)" class="axb" textLength="122.8" lengthAdjust="spacingAndGlyphs">Tank Pressure (MPa)</text>
<text transform="translate(527.9,377.2) rotate(-90)" class="axo" textLength="100.5" lengthAdjust="spacingAndGlyphs">H<tspan dy="4.6" font-size="8.6">2</tspan><tspan dy="-4.6"> Consumed (g)</tspan></text>
</svg>
</body></html>
